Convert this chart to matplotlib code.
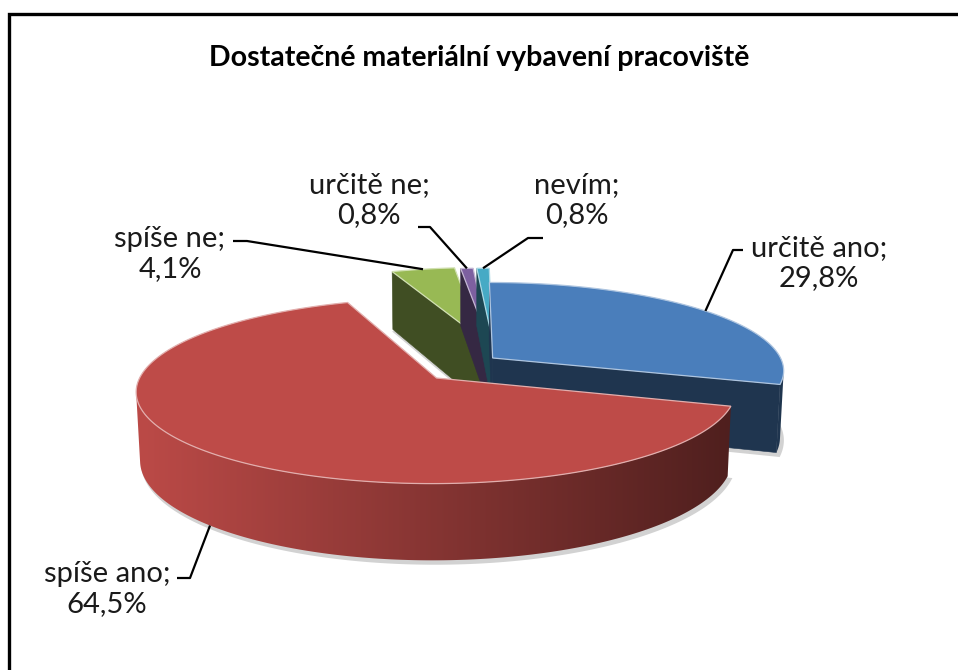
import numpy as np
import matplotlib.pyplot as plt
from matplotlib.patches import Polygon
import matplotlib.colors as mcolors

# data
categories = ['určitě ano', 'spíše ano', 'spíše ne', 'určitě ne', 'nevím']
values = [29.8, 64.5, 4.1, 0.8, 0.8]
value_labels = ['29,8%', '64,5%', '4,1%', '0,8%', '0,8%']
title = 'Dostatečné materiální vybavení pracoviště'

# style
colors = ['#4A7EBB', '#BE4B48', '#98B954', '#7D60A0', '#46AAC5']
# shift of each exploded slice in pie units (x right, y away from viewer)
explode_offset = [(0.096, 0.14), (-0.096, -0.087), (0.058, 0.37), (0.083, 0.36), (0.098, 0.36)]
# label block centre, and the two leader points next to the text
label_xy = [(819, 263), (107, 589), (170, 254), (369, 200), (577, 200)]
leader_pts = [[(743, 250), (733, 250)], [(177, 578), (190, 578)],
              [(233, 241), (247, 241)], [(418, 227), (430, 227)],
              [(543, 238), (528, 238)]]
anchor_at_bottom = [False, True, False, False, False]

plt.rcParams['font.family'] = ['Lato', 'DejaVu Sans']

# camera / projection (pixel space)
S, D = 290.0, 7.0
phi = np.arcsin(0.334)
T = 0.2416
X0, Y0 = 465.0, 437.0
cam = np.array([0.0, -D * np.cos(phi), D * np.sin(phi)])


def proj(X, Y, Z):
    depth = D + Y * np.cos(phi) - Z * np.sin(phi)
    f = S * D / depth
    return X0 + X * f, Y0 - (Y * np.sin(phi) + Z * np.cos(phi)) * f


def visible(normal, point):
    return np.dot(normal, cam - np.asarray(point)) > 0


def shade(c, k):
    r, g, b = mcolors.to_rgb(c)
    return (r * k, g * k, b * k)


def lighten(c, k):
    r, g, b = mcolors.to_rgb(c)
    return (r + (1 - r) * k, g + (1 - g) * k, b + (1 - b) * k)


fig = plt.figure(figsize=(9.58, 6.70), dpi=100)
ax = fig.add_axes([0, 0, 1, 1])

total = sum(values)
bounds = np.concatenate([[0], np.cumsum(values)]) / total * 360.0

slices = []
for i in range(len(values)):
    a0, a1 = bounds[i], bounds[i + 1]
    n = max(3, int(a1 - a0) + 2)
    th = np.radians(np.linspace(a0, a1, n))
    ox, oy = explode_offset[i]
    slices.append((i, a0, a1, th, ox, oy))

# soft shadow under the slices
for i, a0, a1, th, ox, oy in slices:
    px, py = proj(ox + np.sin(th), oy + np.cos(th), 0.0)
    cx, cy = proj(ox, oy, 0.0)
    pts = np.column_stack([np.r_[cx, px], np.r_[cy, py]]) + [2.5, 3.0]
    ax.add_patch(Polygon(pts, closed=True, fc='#d2d2d2', ec='#d2d2d2', lw=2, zorder=1))

# far slices first
order = sorted(slices, key=lambda s: -s[5])
z = 2
for i, a0, a1, th, ox, oy in order:
    col = colors[i]
    # radial faces
    for ang, sgn in ((a0, -1), (a1, 1)):
        r = np.radians(ang)
        nrm = np.array([np.sin(r + sgn * np.pi / 2), np.cos(r + sgn * np.pi / 2), 0.0])
        mid = (ox + 0.5 * np.sin(r), oy + 0.5 * np.cos(r), T / 2)
        if visible(nrm, mid):
            corners = [(ox, oy, 0), (ox, oy, T),
                       (ox + np.sin(r), oy + np.cos(r), T),
                       (ox + np.sin(r), oy + np.cos(r), 0)]
            pts = [proj(*c) for c in corners]
            ax.add_patch(Polygon(pts, closed=True, fc=shade(col, 0.42),
                                 ec=shade(col, 0.42), lw=0.4, zorder=z))
            z += 1
    # outer wall, shaded with a horizontal gradient
    mids = 0.5 * (th[:-1] + th[1:])
    vis = [visible(np.array([np.sin(m), np.cos(m), 0.0]),
                   (ox + np.sin(m), oy + np.cos(m), T / 2)) for m in mids]
    idx = np.where(vis)[0]
    if len(idx):
        seg = th[idx[0]:idx[-1] + 2]
        xs = ox + np.sin(seg)
        ys = oy + np.cos(seg)
        tx, ty = proj(xs, ys, T)
        bx, by = proj(xs, ys, 0.0)
        pts = np.column_stack([np.r_[tx, bx[::-1]], np.r_[ty, by[::-1]]])
        wall = Polygon(pts, closed=True, fc='none', ec='none', zorder=z)
        ax.add_patch(wall)
        xmin, xmax = pts[:, 0].min() - 1, pts[:, 0].max() + 1
        ymin, ymax = pts[:, 1].min() - 1, pts[:, 1].max() + 1
        cxp, _ = proj(ox, oy, 0.0)
        gx = np.linspace(xmin, xmax, 400)
        kf = 0.70 - 0.28 * np.clip((gx - cxp) / S, -1, 1)
        base = np.array(mcolors.to_rgb(col))
        img = np.clip(kf[None, :, None] * base[None, None, :], 0, 1)
        im = ax.imshow(img, extent=(xmin, xmax, ymax, ymin), aspect='auto',
                       interpolation='bilinear', zorder=z)
        im.set_clip_path(wall)
    z += 1
    # top face
    px, py = proj(ox + np.sin(th), oy + np.cos(th), T)
    cx, cy = proj(ox, oy, T)
    pts = np.column_stack([np.r_[cx, px], np.r_[cy, py]])
    ax.add_patch(Polygon(pts, closed=True, fc=col, ec=lighten(col, 0.55),
                         lw=0.9, zorder=z))
    z += 1

# labels with leader lines
for i, a0, a1, th, ox, oy in slices:
    tm = np.radians(0.5 * (a0 + a1))
    zz = 0.0 if anchor_at_bottom[i] else T
    axp, ayp = proj(ox + np.sin(tm), oy + np.cos(tm), zz)
    p1, p2 = leader_pts[i]
    ax.plot([p1[0], p2[0], axp], [p1[1], p2[1], ayp], color='black', lw=1.6,
            zorder=50, solid_capstyle='butt')
    ax.text(label_xy[i][0], label_xy[i][1],
            f'{categories[i]};\n{value_labels[i]}', ha='center', va='center',
            fontsize=21, linespacing=1.2, color='#1a1a1a', zorder=51)

ax.text(479, 58, title, ha='center', va='center', fontsize=20.5,
        fontweight='bold', color='black')

# chart frame
ax.plot([9, 9, 958], [670, 14, 14], color='black', lw=2.4, zorder=60,
        solid_joinstyle='miter')

ax.set_xlim(0, 958)
ax.set_ylim(670, 0)
ax.axis('off')

fig.savefig('out.png', dpi=100)
